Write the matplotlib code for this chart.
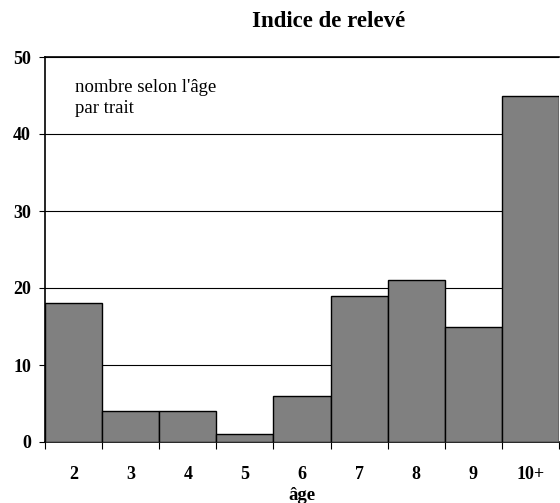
import matplotlib
matplotlib.use('Agg')
import matplotlib.pyplot as plt
import numpy as np

ages = ['2', '3', '4', '5', '6', '7', '8', '9', '10+']
counts = [18, 4, 4, 1, 6, 19, 21, 15, 45]
note_lines = ["nombre selon l'âge", "par trait"]

plt.rcParams['font.family'] = ['Liberation Serif', 'DejaVu Serif']

fig = plt.figure(figsize=(5.6, 5.03), dpi=100)
ax = fig.add_axes([45 / 560, 61 / 503, 514 / 560, 385 / 503])

x = np.arange(len(ages))
ax.bar(x, counts, width=1.0, color='#808080', edgecolor='black', linewidth=1.0, zorder=3)

ax.set_xlim(-0.5, len(ages) - 0.5)
ax.set_ylim(0, 50)
ax.set_yticks(range(0, 51, 10))
ax.set_yticklabels([str(v) for v in range(0, 51, 10)], fontweight='bold', fontsize=13)
ax.yaxis.grid(True, color='black', linewidth=0.8, zorder=0)

# ticks at bar boundaries, labels at centres
ax.set_xticks(np.arange(-0.5, len(ages), 1.0))
ax.set_xticklabels([])
ax.set_xticks(x, minor=True)
ax.set_xticklabels(ages, minor=True, fontweight='bold', fontsize=13)
ax.tick_params(axis='x', which='minor', length=0, pad=17)
ax.tick_params(axis='x', which='major', length=5, width=0.8, direction='out')
ax.tick_params(axis='y', length=4.5, width=0.8, direction='out', pad=5.5)

ax.spines['right'].set_visible(False)
ax.spines['top'].set_linewidth(1.2)
ax.spines['left'].set_linewidth(1.2)
ax.spines['bottom'].set_linewidth(1.2)

ax.set_xlabel('âge', fontweight='bold', fontsize=13.5, labelpad=3)
fig.text(329 / 560, 1 - 27 / 503, 'Indice de relevé', ha='center', va='baseline',
         fontweight='bold', fontsize=16.5)
ax.text(30 / 514, (442 - 92) / 385, note_lines[0], transform=ax.transAxes,
        ha='left', va='baseline', fontsize=13.5)
ax.text(30 / 514, (442 - 113) / 385, note_lines[1], transform=ax.transAxes,
        ha='left', va='baseline', fontsize=13.5)

fig.savefig('out.png', dpi=100)
